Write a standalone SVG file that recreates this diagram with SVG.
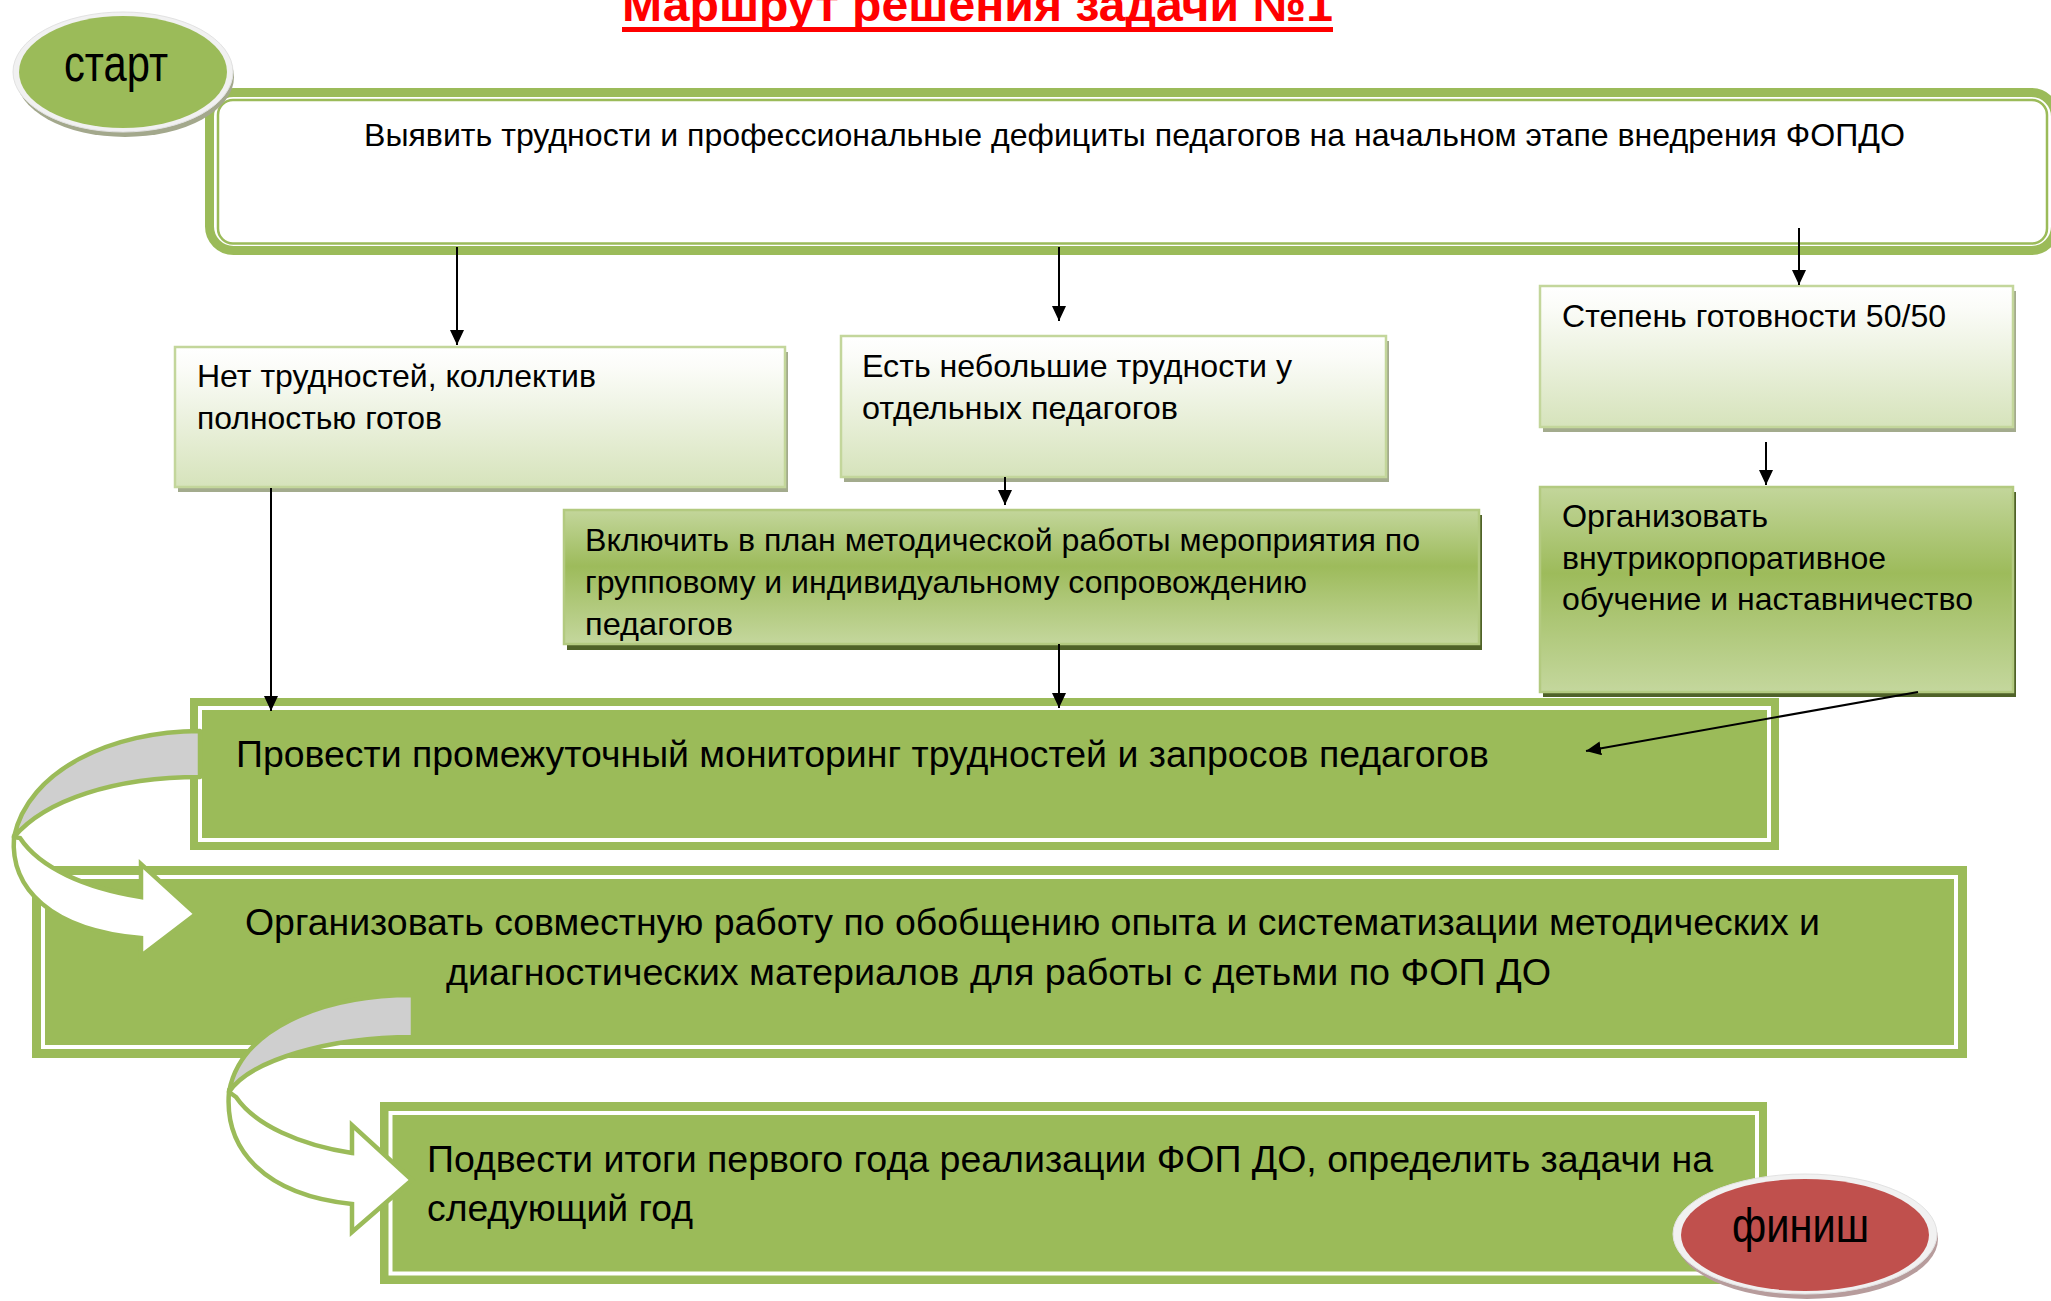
<svg xmlns="http://www.w3.org/2000/svg" width="2051" height="1301" viewBox="0 0 2051 1301">
<defs>
<linearGradient id="gLight" x1="0" y1="0" x2="0" y2="1">
<stop offset="0" stop-color="#ffffff"/><stop offset="0.15" stop-color="#fbfcf8"/><stop offset="1" stop-color="#d6e3bb"/>
</linearGradient>
<linearGradient id="gGreen" x1="0" y1="0" x2="0" y2="1">
<stop offset="0" stop-color="#c3d69b"/><stop offset="0.42" stop-color="#9dbb5b"/><stop offset="1" stop-color="#c4d79d"/>
</linearGradient>
<marker id="ah" markerUnits="userSpaceOnUse" markerWidth="16" markerHeight="14" refX="15" refY="7" orient="auto">
<path d="M0,0 L15,7 L0,14 Z" fill="#000"/>
</marker>
<clipPath id="clipInc"><rect x="566" y="512" width="911" height="129"/></clipPath>
</defs>
<style>
.t{font-family:"Liberation Sans",Arial,sans-serif;fill:#000}
.s32{font-size:32px}
.s37{font-size:37px}
.lbox{fill:url(#gLight);stroke:#c3d69b;stroke-width:2.5}
.lsh{fill:#a3ab8d}
.gbox{fill:url(#gGreen);stroke:#b3ca80;stroke-width:2.5}
.gsh{fill:#4f6228}
.dbo{fill:#9bbb59}
.dbi{fill:none;stroke:#ffffff;stroke-width:4}
.cn{stroke:#000;stroke-width:2;fill:none;marker-end:url(#ah)}
.back{fill:#cfcfcf;stroke:#9bbb59;stroke-width:4.5;stroke-linejoin:round}
.front{fill:#ffffff;stroke:#9bbb59;stroke-width:4.5;stroke-linejoin:miter}
</style>
<rect width="2051" height="1301" fill="#ffffff"/>

<g id="title">
<text class="t" x="622" y="21" font-size="46" font-weight="bold" style="fill:#ff0000" textLength="711" lengthAdjust="spacingAndGlyphs">Маршрут решения задачи №1</text>
<rect x="622" y="27" width="711" height="5" fill="#ff0000"/>
</g>

<g id="node-top">
<rect x="209.5" y="92.5" width="1846" height="158" rx="24" fill="#ffffff" stroke="#9bbb59" stroke-width="9"/>
<rect x="218" y="100" width="1829" height="143.5" rx="15" fill="none" stroke="#9bbb59" stroke-width="2.5"/>
<text class="t s32" x="364" y="146" textLength="1541" lengthAdjust="spacingAndGlyphs">Выявить трудности и профессиональные дефициты педагогов на начальном этапе внедрения ФОПДО</text>
</g>

<g id="node-net">
<rect class="lsh" x="178" y="352" width="610" height="140"/>
<rect class="lbox" x="175" y="347" width="610" height="140"/>
<text class="t s32" x="197" y="387" textLength="399" lengthAdjust="spacingAndGlyphs">Нет трудностей, коллектив</text>
<text class="t s32" x="197" y="429" textLength="245" lengthAdjust="spacingAndGlyphs">полностью готов</text>
</g>

<g id="node-est">
<rect class="lsh" x="844" y="341" width="545" height="141"/>
<rect class="lbox" x="841" y="336" width="545" height="141"/>
<text class="t s32" x="862" y="377" textLength="430" lengthAdjust="spacingAndGlyphs">Есть небольшие трудности у</text>
<text class="t s32" x="862" y="419" textLength="316" lengthAdjust="spacingAndGlyphs">отдельных педагогов</text>
</g>

<g id="node-step">
<rect class="lsh" x="1543" y="291" width="473" height="141"/>
<rect class="lbox" x="1540" y="286" width="473" height="141"/>
<text class="t s32" x="1562" y="327" textLength="384" lengthAdjust="spacingAndGlyphs">Степень готовности 50/50</text>
</g>

<g id="node-vkl">
<rect class="gsh" x="567" y="515" width="915" height="135"/>
<rect class="gbox" x="564" y="510" width="915" height="134"/>
<g clip-path="url(#clipInc)">
<text class="t s32" x="585" y="551" textLength="835" lengthAdjust="spacingAndGlyphs">Включить в план методической работы мероприятия по</text>
<text class="t s32" x="585" y="593" textLength="722" lengthAdjust="spacingAndGlyphs">групповому и индивидуальному сопровождению</text>
<text class="t s32" x="585" y="635" textLength="148" lengthAdjust="spacingAndGlyphs">педагогов</text>
</g>
</g>

<g id="node-org">
<rect class="gsh" x="1543" y="492" width="473" height="205"/>
<rect class="gbox" x="1540" y="487" width="473" height="205"/>
<text class="t s32" x="1562" y="527" textLength="206" lengthAdjust="spacingAndGlyphs">Организовать</text>
<text class="t s32" x="1562" y="569" textLength="324" lengthAdjust="spacingAndGlyphs">внутрикорпоративное</text>
<text class="t s32" x="1562" y="610" textLength="411" lengthAdjust="spacingAndGlyphs">обучение и наставничество</text>
</g>

<g id="node-monitor">
<rect class="dbo" x="190" y="698" width="1589" height="152"/>
<rect class="dbi" x="200" y="708" width="1569" height="132"/>
<text class="t s37" x="236" y="767" textLength="1253" lengthAdjust="spacingAndGlyphs">Провести промежуточный мониторинг трудностей и запросов педагогов</text>
</g>

<g id="node-joint">
<rect class="dbo" x="32" y="866" width="1935" height="192"/>
<rect class="dbi" x="43" y="877" width="1913" height="170"/>
<text class="t s37" x="245" y="935" textLength="1575" lengthAdjust="spacingAndGlyphs">Организовать совместную работу по обобщению опыта и систематизации методических и</text>
<text class="t s37" x="446" y="985" textLength="1105" lengthAdjust="spacingAndGlyphs">диагностических материалов для работы  с детьми по ФОП ДО</text>
</g>

<g id="node-result">
<rect class="dbo" x="380" y="1102" width="1387" height="182"/>
<rect class="dbi" x="390.5" y="1113" width="1366.5" height="160.5"/>
<text class="t s37" x="427" y="1172" textLength="1286" lengthAdjust="spacingAndGlyphs">Подвести итоги первого года реализации ФОП ДО, определить задачи на</text>
<text class="t s37" x="427" y="1221" textLength="266" lengthAdjust="spacingAndGlyphs">следующий год</text>
</g>

<g id="connectors">
<line class="cn" x1="457" y1="247" x2="457" y2="345"/>
<line class="cn" x1="1059" y1="247" x2="1059" y2="321"/>
<line class="cn" x1="1799" y1="228" x2="1799" y2="285"/>
<line class="cn" x1="1005" y1="477" x2="1005" y2="505"/>
<line class="cn" x1="1059" y1="644" x2="1059" y2="708"/>
<line class="cn" x1="271" y1="488" x2="271" y2="711"/>
<line class="cn" x1="1766" y1="442" x2="1766" y2="485"/>
<line class="cn" x1="1918" y1="692" x2="1586" y2="751"/>
</g>

<g id="curve-arrow-1">
<path class="back" d="M200,731 C112,731 28,770 14,837 C45,800 115,777 200,777 Z"/>
<path class="front" d="M14,837 C10,888 50,930 141,938 L141,956 L196,914 L141,864 L141,897 C85,888 40,868 20,838 Z"/>
</g>

<g id="curve-arrow-2">
<path class="back" d="M413,995 C320,995 240,1030 229,1092 C250,1060 330,1037 413,1037 Z"/>
<path class="front" d="M229,1092 C224,1150 265,1195 352,1204 L352,1232 L412,1180 L352,1125 L352,1153 C300,1145 255,1125 236,1097 Z"/>
</g>

<g id="node-start">
<ellipse cx="125" cy="77" rx="109" ry="60" fill="#a3a88c"/>
<ellipse cx="123" cy="72" rx="110" ry="60" fill="#f1f1f1" stroke="#e2e2e2" stroke-width="1"/>
<ellipse cx="123" cy="72" rx="104" ry="56" fill="#9bbb59"/>
<text class="t" x="64" y="81" font-size="52" textLength="104" lengthAdjust="spacingAndGlyphs">старт</text>
</g>

<g id="node-finish">
<ellipse cx="1807" cy="1239" rx="131" ry="60" fill="#b79c9c"/>
<ellipse cx="1805" cy="1234" rx="132" ry="60" fill="#f1f1f1" stroke="#e2e2e2" stroke-width="1"/>
<ellipse cx="1805" cy="1235" rx="124" ry="56" fill="#c0504d"/>
<text class="t" x="1732" y="1242" font-size="48" textLength="137" lengthAdjust="spacingAndGlyphs">финиш</text>
</g>
</svg>
